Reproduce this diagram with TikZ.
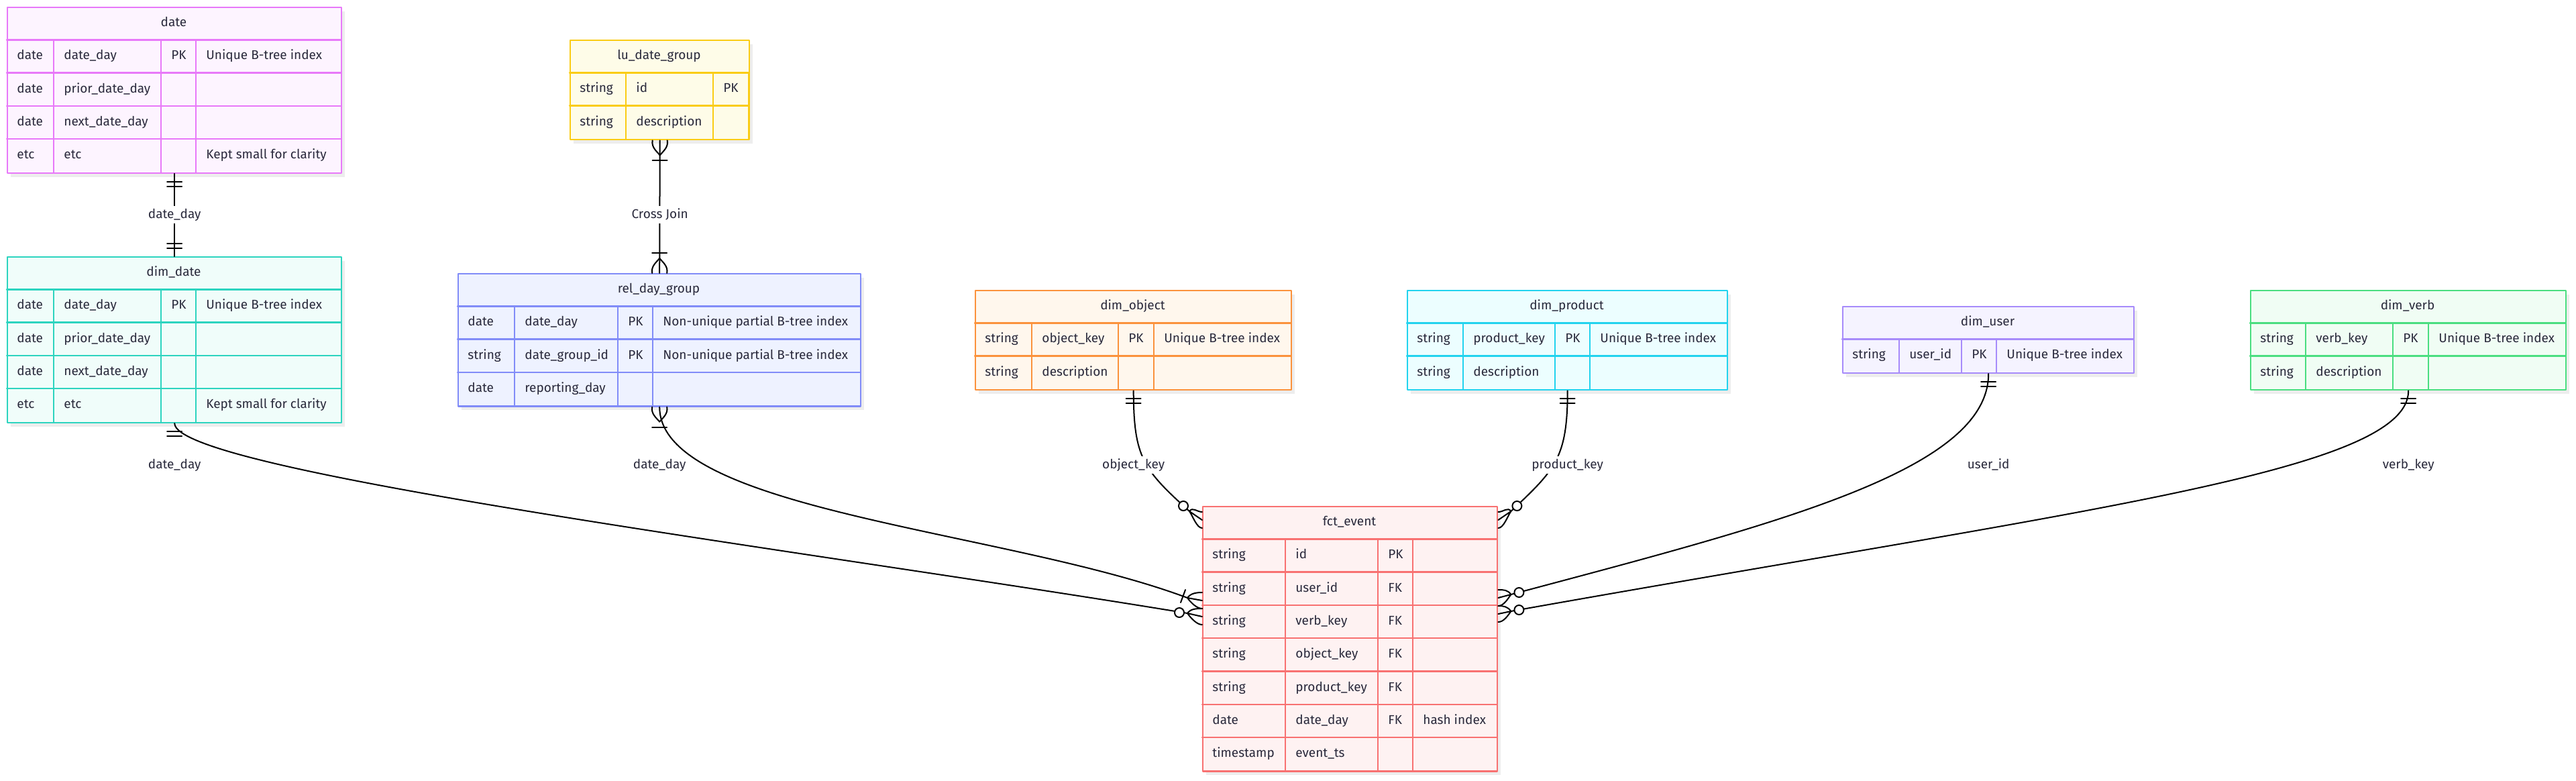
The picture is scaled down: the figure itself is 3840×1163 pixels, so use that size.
\documentclass[tikz,border=0pt]{standalone}
\usepackage{fontspec}
\setmainfont{Fira Sans}
\usetikzlibrary{calc}

\definecolor{ink}{HTML}{2A2A3C}
\definecolor{fuchsialine}{HTML}{E879F9}\definecolor{fuchsiafill}{HTML}{FDF4FF}
\definecolor{tealline}{HTML}{2DD4BF}\definecolor{tealfill}{HTML}{F0FDFA}
\definecolor{yellowline}{HTML}{FACC15}\definecolor{yellowfill}{HTML}{FEFCE8}
\definecolor{indigoline}{HTML}{818CF8}\definecolor{indigofill}{HTML}{EEF2FF}
\definecolor{orangeline}{HTML}{FB923C}\definecolor{orangefill}{HTML}{FFF7ED}
\definecolor{cyanline}{HTML}{22D3EE}\definecolor{cyanfill}{HTML}{ECFEFF}
\definecolor{violetline}{HTML}{A78BFA}\definecolor{violetfill}{HTML}{F5F3FF}
\definecolor{greenline}{HTML}{4ADE80}\definecolor{greenfill}{HTML}{F0FDF4}
\definecolor{redline}{HTML}{F87171}\definecolor{redfill}{HTML}{FEF2F2}

\newcommand\rowh{49.3}
\def\tbsplit#1,#2,#3,#4\relax{\def\tbx{#1}\def\tby{#2}\def\tbr{#3}\def\tbn{#4}}
\def\colsplit#1,#2,#3\relax{\def\cola{#1}\def\colb{#2}\def\colc{#3}}

% #1 name, #2 colour, #3 left,top,right,rows, #4 column lines, #5 title, #6 rows
\newcommand\ertable[6]{%
  \tbsplit#3\relax\colsplit#4\relax
  \pgfmathsetmacro\tbb{\tby+(\tbn+1)*\rowh}%
  \pgfmathsetmacro\tbw{(\tbr-\tbx)/2}%
  \pgfmathsetmacro\tbh{(\tbb-\tby)/2}%
  \fill[tabshadow] (\tbx+6,\tby+7) rectangle (\tbr+6,\tbb+7);
  \node[tbl,draw=#2line,fill=#2fill,minimum width=\tbw pt,minimum height=\tbh pt,anchor=north west] (#1) at (\tbx,\tby) {};
  \foreach \rw in {1,...,\tbn}
    \draw[tbl,#2line] (\tbx,\tby+\rw*\rowh) -- (\tbr,\tby+\rw*\rowh);
  \foreach \cx in {\cola,\colb,\colc}
    \draw[tbl,#2line] (\cx,\tby+\rowh) -- (\cx,\tbb);
  \node[txt] (#1-t) at ({(\tbx+\tbr)/2},\tby+\rowh/2) {#5};
  \foreach \ftype/\fname/\fkey/\fnote [count=\rw] in {#6}{
    \pgfmathsetmacro\fy{\tby+(\rw+.5)*\rowh}
    \node[txt,anchor=west] (#1-\rw-a) at (\tbx+15,\fy) {\ftype};
    \node[txt,anchor=west] (#1-\rw-b) at (\cola+15,\fy) {\fname};
    \node[txt,anchor=west] (#1-\rw-c) at (\colb+15,\fy) {\fkey};
    \node[txt,anchor=west] (#1-\rw-d) at (\colc+15,\fy) {\fnote};
  }}

% two bars, #1 point on the table edge, #2 = 1 down, -1 up
\newcommand\markone[2]{%
  \draw[link] ($(#1)+(-11,12*#2)$) -- +(22,0) ($(#1)+(-11,19*#2)$) -- +(22,0);}
% crow's foot and bar on a vertical line
\newcommand\markmany[2]{%
  \draw[link] ($(#1)+(-11,0)$) .. controls +(-2,10*#2) and +(-5,-6*#2) .. ($(#1)+(0,22*#2)$)
    .. controls +(5,-6*#2) and +(2,10*#2) .. ($(#1)+(11,0)$);
  \draw[link] ($(#1)+(-11,30*#2)$) -- +(22,0);}
% legs from #1 to the table edge at #2, #3 = 1 table on the right, -1 on the left
\newcommand\crowfoot[3]{%
  \draw[link] (#1) .. controls +(5*#3,-7) and +(-8*#3,0) .. ($(#2)+(0,-12)$)
    (#1) -- (#2)
    (#1) .. controls +(5*#3,7) and +(-8*#3,0) .. ($(#2)+(0,12)$);}

\begin{document}
\begin{tikzpicture}[x=0.5pt,y=-0.5pt,line join=round,line cap=round,font=\fontsize{9.5}{11}\selectfont,
  txt/.style={text=ink,inner sep=0pt,text height=7pt,text depth=2pt},
  lbl/.style={txt,fill=white,inner sep=2pt},
  tbl/.style={line width=1.2pt,inner sep=0pt},
  tabshadow/.style={fill=black!7},
  link/.style={line width=1pt,black}]
\useasboundingbox (0,0) rectangle (3840,1163);

% tables
\ertable{date}{fuchsia}{10,10,508,4}{80,240,292}{date}{
  date/date\_day/PK/Unique B-tree index,
  date/prior\_date\_day/{}/{},
  date/next\_date\_day/{}/{},
  etc/etc/{}/Kept small for clarity}
\ertable{dimdate}{teal}{10,382,508,4}{80,240,292}{dim\_date}{
  date/date\_day/PK/Unique B-tree index,
  date/prior\_date\_day/{}/{},
  date/next\_date\_day/{}/{},
  etc/etc/{}/Kept small for clarity}
\ertable{lu}{yellow}{849,59,1116,2}{933,1063,1116}{lu\_date\_group}{
  string/id/PK/{},
  string/description/{}/{}}
\ertable{reldg}{indigo}{682,407,1282,3}{767,921,973}{rel\_day\_group}{
  date/date\_day/PK/Non-unique partial B-tree index,
  string/date\_group\_id/PK/Non-unique partial B-tree index,
  date/reporting\_day/{}/{}}
\ertable{dimobj}{orange}{1453,432,1924,2}{1538,1667,1720}{dim\_object}{
  string/object\_key/PK/Unique B-tree index,
  string/description/{}/{}}
\ertable{dimprod}{cyan}{2097,432,2574,2}{2181,2318,2370}{dim\_product}{
  string/product\_key/PK/Unique B-tree index,
  string/description/{}/{}}
\ertable{dimuser}{violet}{2746,456,3180,1}{2831,2924,2976}{dim\_user}{
  string/user\_id/PK/Unique B-tree index}
\ertable{dimverb}{green}{3354,432,3824,2}{3437,3567,3620}{dim\_verb}{
  string/verb\_key/PK/Unique B-tree index,
  string/description/{}/{}}
\ertable{fct}{red}{1792,754,2231,7}{1916,2054,2106}{fct\_event}{
  string/id/PK/{},
  string/user\_id/FK/{},
  string/verb\_key/FK/{},
  string/object\_key/FK/{},
  string/product\_key/FK/{},
  date/date\_day/FK/hash index,
  timestamp/event\_ts/{}/{}}

% ends on fct_event
\coordinate (cobj) at ($(fct.north west)+(-19,8)$);
\coordinate (eobj) at ($(fct.north west)+(0,21)$);
\coordinate (oobj) at ($(fct.north west)+(-28,0)$);
\coordinate (crel) at ($(fct.north west)+(-22,137)$);
\coordinate (erel) at ($(fct.north west)+(0,141)$);
\coordinate (cdate) at ($(fct.north west)+(-22,160)$);
\coordinate (edate) at ($(fct.north west)+(0,165)$);
\coordinate (odate) at ($(fct.north west)+(-34,159)$);
\coordinate (cprod) at ($(fct.north east)+(19,8)$);
\coordinate (eprod) at ($(fct.north east)+(0,21)$);
\coordinate (oprod) at ($(fct.north east)+(28,0)$);
\coordinate (cuser) at ($(fct.north east)+(19,132)$);
\coordinate (euser) at ($(fct.north east)+(0,137)$);
\coordinate (ouser) at ($(fct.north east)+(31,129)$);
\coordinate (cverb) at ($(fct.north east)+(19,157)$);
\coordinate (everb) at ($(fct.north east)+(0,161)$);
\coordinate (overb) at ($(fct.north east)+(31,155)$);
\coordinate (lblrow) at (0,693);

% relations
\draw[link] (date.south) -- (dimdate.north);
\draw[link] (lu.south) -- (reldg.north);
\draw[link] (dimdate.south) .. controls +(0,72) and (1200,820) .. (cdate);
\draw[link] (reldg.south) .. controls +(0,155) and (1500,790) .. (crel);
\draw[link] (dimobj.south) .. controls +(0,101) and (1705,700) .. (cobj);
\draw[link] (dimprod.south) .. controls +(0,101) and (2318,700) .. (cprod);
\draw[link] (dimuser.south) .. controls +(0,144) and (2650,780) .. (cuser);
\draw[link] (dimverb.south) .. controls +(0,121) and (3100,760) .. (cverb);

\node[lbl] (ldate) at ($(date.south)!.5!(dimdate.north)$) {date\_day};
\node[lbl] (lcross) at (lu.south |- ldate) {Cross Join};
\node[lbl] (ldimdate) at (dimdate.south |- lblrow) {date\_day};
\node[lbl] (lreldg) at (reldg.south |- lblrow) {date\_day};
\node[lbl] (lobj) at (dimobj.south |- lblrow) {object\_key};
\node[lbl] (lprod) at (dimprod.south |- lblrow) {product\_key};
\node[lbl] (luser) at (dimuser.south |- lblrow) {user\_id};
\node[lbl] (lverb) at (dimverb.south |- lblrow) {verb\_key};

% cardinality marks
\markone{date.south}{1}
\markone{dimdate.north}{-1}
\foreach \t in {dimdate,dimobj,dimprod,dimuser,dimverb}{
  \markone{\t.south}{1}
}
\markmany{lu.south}{1}
\markmany{reldg.north}{-1}
\markmany{reldg.south}{1}

\crowfoot{crel}{erel}{1}
\draw[link] ($(crel)+(-3,-12)$) -- ($(crel)+(-10,7)$);
\foreach \m/\s in {obj/1,date/1,prod/-1,user/-1,verb/-1}{
  \crowfoot{c\m}{e\m}{\s}
  \draw[link,fill=white] (o\m) circle (3.5pt);
}
\end{tikzpicture}
\end{document}
